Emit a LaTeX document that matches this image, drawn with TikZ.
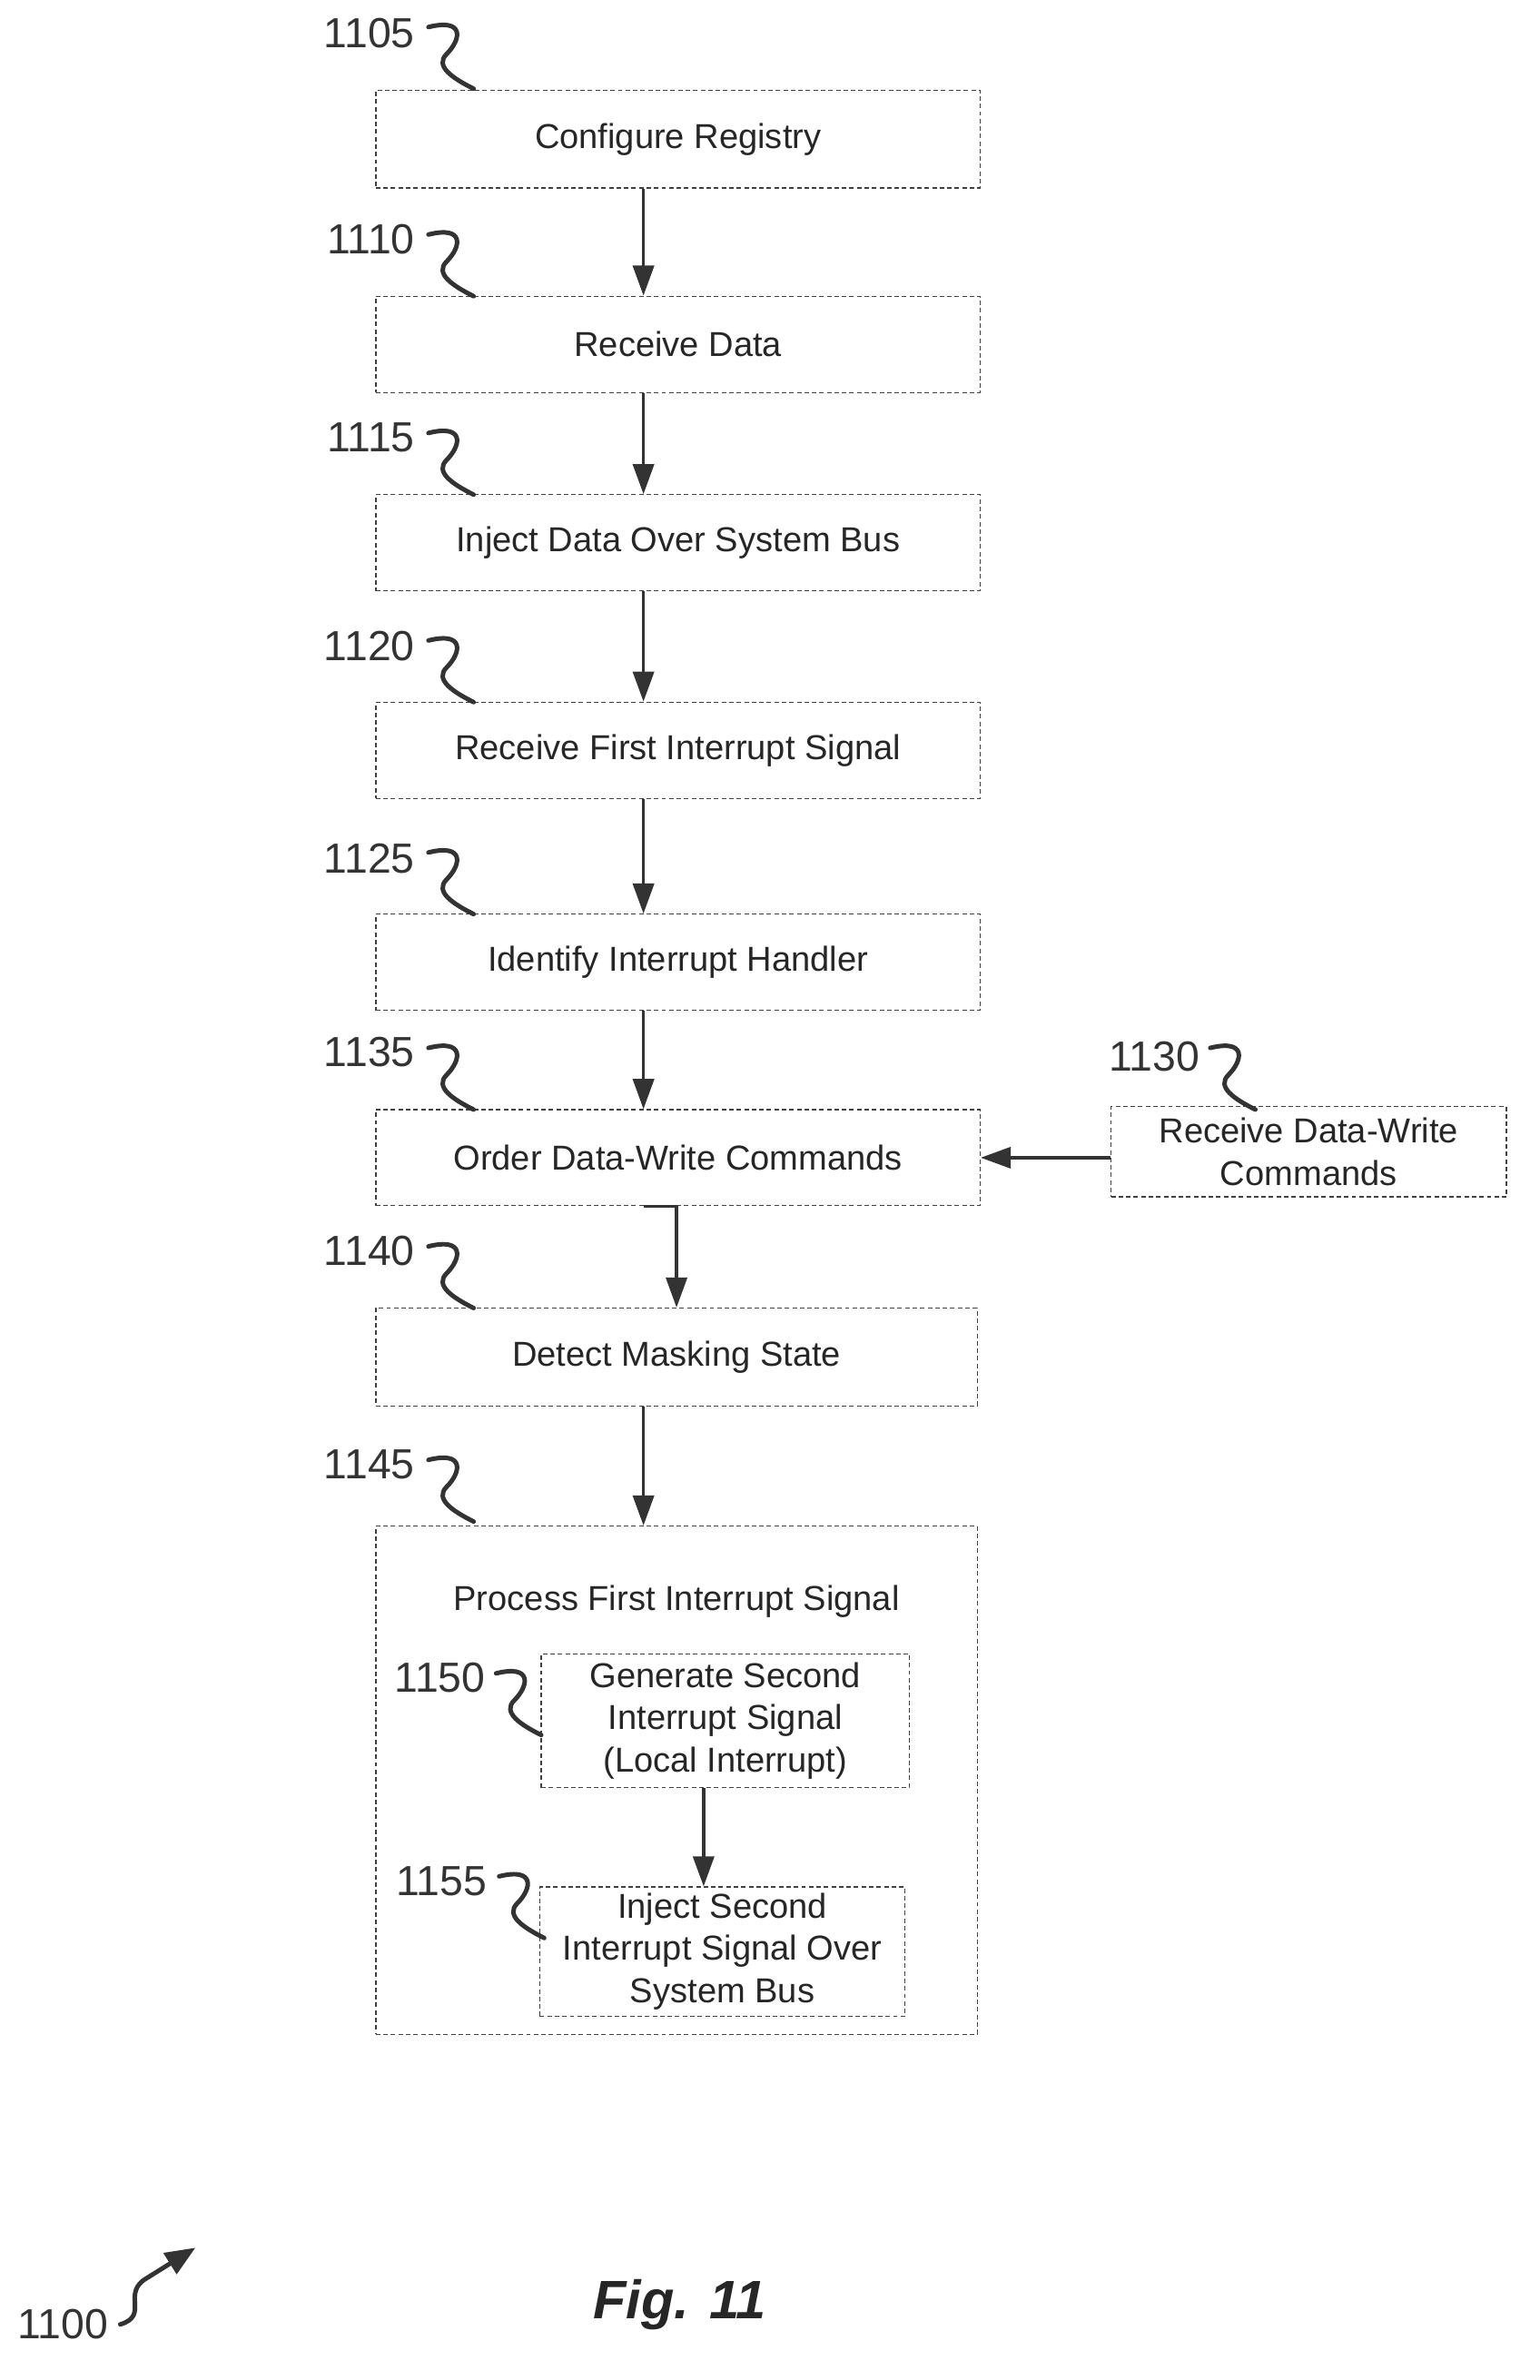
\documentclass[tikz,border=0pt]{standalone}
\usepackage{fontspec}
\setmainfont{Liberation Sans}
\usetikzlibrary{arrows.meta}
\begin{document}
\begin{tikzpicture}[x=1pt,y=-1pt,
 box/.style={draw=black!75,dashed,line width=0.7pt,dash pattern=on 3pt off 2pt,inner sep=0pt,align=center,font=\fontsize{23}{28}\selectfont,text=black!85},
 lab/.style={font=\fontsize{28}{30}\selectfont,text=black!80,inner sep=0pt},
 arr/.style={draw=black!80,line width=2pt,-{Triangle[length=20pt,width=14pt]}},
 sq/.style={draw=black!80,line width=3pt,line cap=round}]
\useasboundingbox (0,0) rectangle (1024,1583);
\newcommand{\squig}[2]{\draw[sq] (#1,#2) .. controls (#1+24,#2-6) and (#1+22,#2+8) .. (#1+12,#2+18) .. controls (#1+4,#2+26) and (#1+16,#2+34) .. (#1+30,#2+41);}
\node[box,minimum width=402pt,minimum height=65pt] (b1) at (451,92.5) {Configure Registry};
\node[box,minimum width=402pt,minimum height=64pt] (b2) at (451,229) {Receive Data};
\node[box,minimum width=402pt,minimum height=64pt] (b3) at (451,361) {Inject Data Over System Bus};
\node[box,minimum width=402pt,minimum height=64pt] (b4) at (451,499) {Receive First Interrupt Signal};
\node[box,minimum width=402pt,minimum height=64pt] (b5) at (451,640) {Identify Interrupt Handler};
\node[box,minimum width=402pt,minimum height=64pt] (b6) at (451,770) {Order Data-Write Commands};
\node[box,minimum width=263pt,minimum height=60pt] (b30) at (870.5,766) {Receive Data-Write\\Commands};
\node[box,minimum width=400pt,minimum height=65pt] (b7) at (450,902.5) {Detect Masking State};
\node[box,minimum width=400pt,minimum height=338pt] (b45) at (450,1184) {};
\node[font=\fontsize{23}{28}\selectfont,text=black!85] (t45) at (450,1065) {Process First Interrupt Signal};
\node[box,minimum width=245pt,minimum height=89pt] (b50) at (482.5,1144.5) {Generate Second\\Interrupt Signal\\(Local Interrupt)};
\node[box,minimum width=243pt,minimum height=86pt] (b55) at (480.5,1298) {Inject Second\\Interrupt Signal Over\\System Bus};
\node[lab,anchor=east] (l05) at (276,22) {1105}; \squig{285}{18}
\node[lab,anchor=east] (l10) at (276,159) {1110}; \squig{285}{156}
\node[lab,anchor=east] (l15) at (276,291) {1115}; \squig{285}{288}
\node[lab,anchor=east] (l20) at (276,430) {1120}; \squig{285}{426}
\node[lab,anchor=east] (l25) at (276,571) {1125}; \squig{285}{567}
\node[lab,anchor=east] (l35) at (276,700) {1135}; \squig{285}{697}
\node[lab,anchor=east] (l30) at (798,703) {1130}; \squig{805}{697}
\node[lab,anchor=east] (l40) at (276,832) {1140}; \squig{285}{829}
\node[lab,anchor=east] (l45) at (276,974) {1145}; \squig{285}{971}
\node[lab,anchor=east] (l50) at (323,1116) {1150}; \squig{330}{1113}
\node[lab,anchor=east] (l55) at (324,1251) {1155}; \squig{332}{1248}
\node[lab,anchor=east] (l00) at (72,1546) {1100};
\coordinate (s00) at (80,1546);
\coordinate (e00) at (130,1495);
\draw[sq,-{Triangle[length=20pt,width=16pt]}] (s00) .. controls (100,1540) and (80,1525) .. (98,1515) -- (e00);
\node[font=\fontsize{36}{38}\selectfont\bfseries\itshape,text=black!85] (fig) at (452,1533) {Fig. 11};
\draw[arr] (b1.south -| 428,0) -- (b2.north -| 428,0);
\draw[arr] (b2.south -| 428,0) -- (b3.north -| 428,0);
\draw[arr] (b3.south -| 428,0) -- (b4.north -| 428,0);
\draw[arr] (b4.south -| 428,0) -- (b5.north -| 428,0);
\draw[arr] (b5.south -| 428,0) -- (b6.north -| 428,0);
\draw[arr] (b6.south -| 428,0) -- (b6.south -| 450,0) -- (b7.north -| 450,0);
\draw[arr] (b7.south -| 428,0) -- (b45.north -| 428,0);
\draw[arr] (b50.south -| 468,0) -- (b55.north -| 468,0);
\draw[arr] (b30.west |- b6.east) -- (b6.east);
\end{tikzpicture}
\end{document}
